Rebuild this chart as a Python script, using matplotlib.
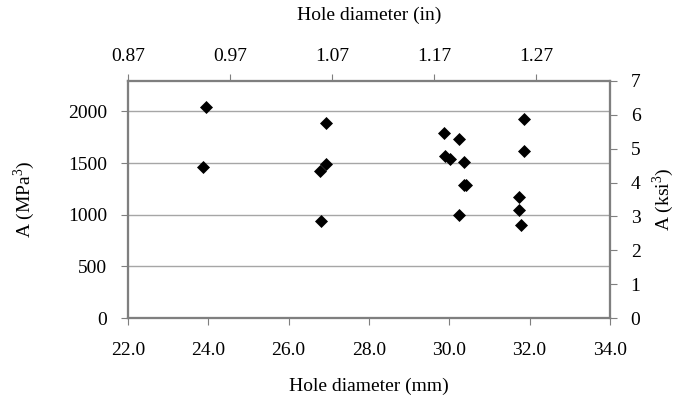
import matplotlib.pyplot as plt

plt.rcParams['font.family'] = ['Liberation Serif', 'DejaVu Serif']
plt.rcParams['mathtext.fontset'] = 'custom'
plt.rcParams['mathtext.rm'] = 'Liberation Serif'

# hole diameter (mm) and A (MPa^3)
diam_mm = [23.93, 23.86, 26.93, 26.93, 26.78, 26.81,
           29.87, 30.25, 29.89, 30.02, 30.36, 30.37, 30.42, 30.25,
           31.87, 31.87, 31.73, 31.73, 31.78]
a_mpa3 = [2040, 1464, 1892, 1490, 1426, 943,
          1795, 1731, 1564, 1544, 1513, 1288, 1288, 1001,
          1928, 1612, 1172, 1043, 898]

mm_ticks = [22.0, 24.0, 26.0, 28.0, 30.0, 32.0, 34.0]
in_ticks = [0.87, 0.97, 1.07, 1.17, 1.27]
mpa_ticks = [0, 500, 1000, 1500, 2000]
ksi_ticks = [0, 1, 2, 3, 4, 5, 6, 7]

KSI3_TO_MPA3 = 6.894757 ** 3
spine_col = '#7f7f7f'
grid_col = '#a6a6a6'
fs = 14

fig = plt.figure(figsize=(6.82, 3.98), dpi=100)
ax = fig.add_axes([0.1877, 0.201, 0.7065, 0.5955])

ax.scatter(diam_mm, a_mpa3, marker='D', s=44, color='black', zorder=3, linewidths=0)

ax.set_xlim(mm_ticks[0], mm_ticks[-1])
ax.set_ylim(0, 7 * KSI3_TO_MPA3)
ax.set_xticks(mm_ticks)
ax.set_xticklabels([f'{t:.1f}' for t in mm_ticks])
ax.set_yticks(mpa_ticks)
ax.yaxis.grid(True, color=grid_col, linewidth=1.0)
ax.set_axisbelow(True)

# right axis in ksi^3
ax_r = ax.twinx()
ax_r.set_ylim(0, 7)
ax_r.set_yticks(ksi_ticks)

# top axis in inches
ax_t = ax.twiny()
ax_t.set_xlim(in_ticks[0], in_ticks[0] + (mm_ticks[-1] - mm_ticks[0]) / 25.4)
ax_t.set_xticks(in_ticks)
ax_t.set_xticklabels([f'{t:.2f}' for t in in_ticks])

for a in (ax, ax_r, ax_t):
    a.tick_params(direction='out', length=5, width=0.8, color=spine_col,
                  labelsize=fs, pad=10)
    for s in a.spines.values():
        s.set_color(spine_col)
        s.set_linewidth(1.5)
ax.tick_params(axis='x', pad=12)
ax_t.tick_params(axis='x', pad=6.5)

ax.set_xlabel('Hole diameter (mm)', fontsize=fs, labelpad=14)
ax.set_ylabel('A (MPa$^3$)', fontsize=fs, labelpad=22)
ax_r.set_ylabel('A (ksi$^3$)', fontsize=fs, labelpad=7)
ax_t.set_xlabel('Hole diameter (in)', fontsize=fs, labelpad=20.5)

fig.savefig('out.png', dpi=100)
